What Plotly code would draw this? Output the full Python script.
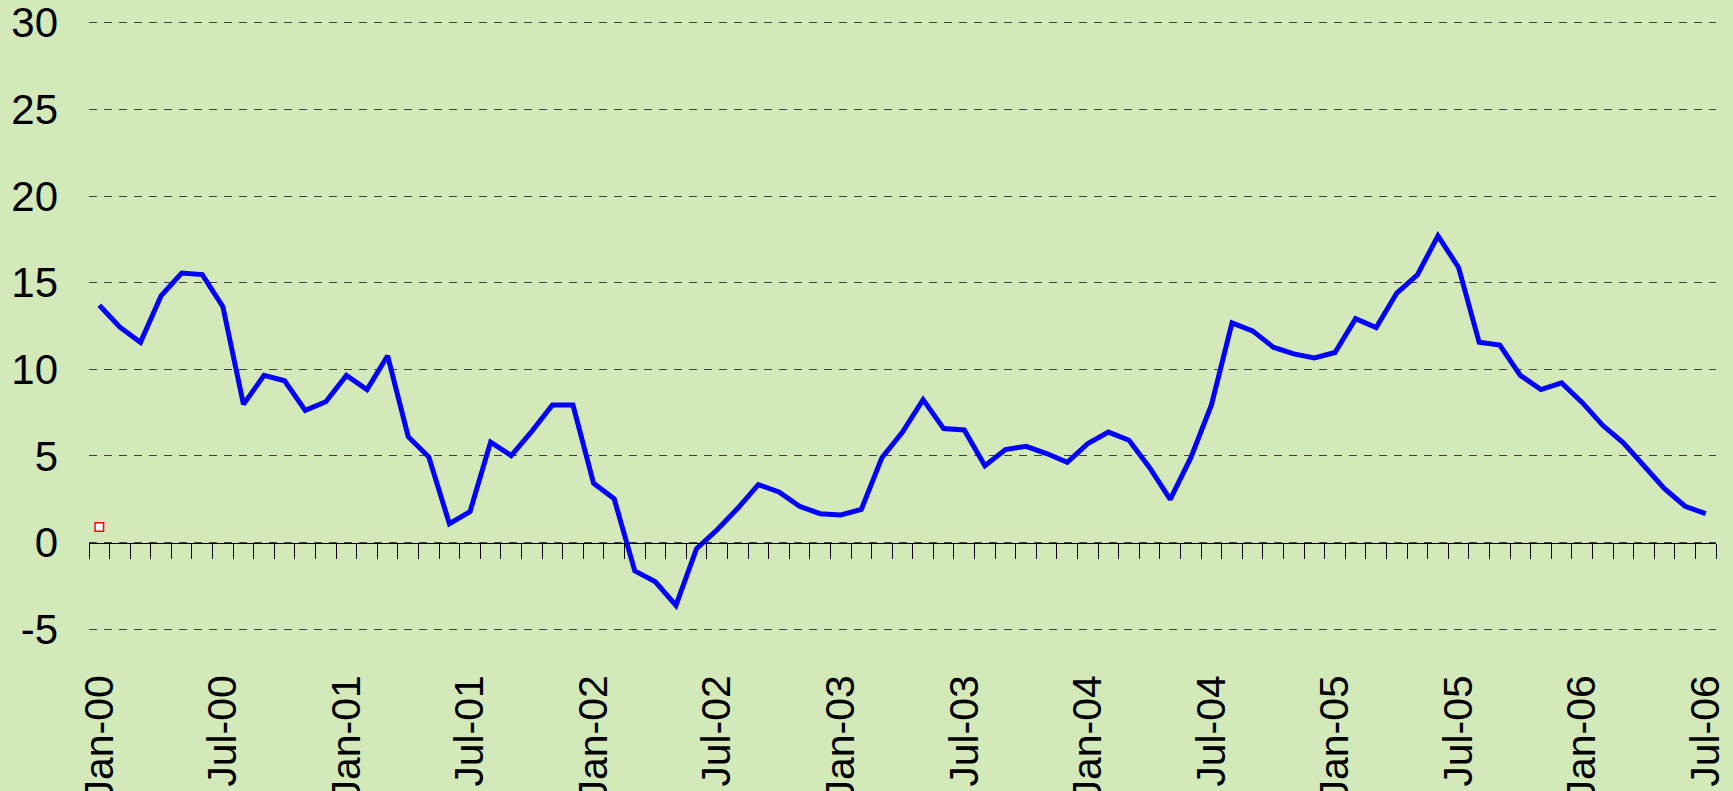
import pandas as pd
import plotly.graph_objects as go

# ---- data ----
categories = list(pd.date_range("2000-01-01", "2006-07-01", freq="MS").strftime("%b-%y"))
values = [
    13.70, 12.43, 11.56, 14.24, 15.56, 15.47, 13.62, 7.98, 9.65, 9.34, 7.63, 8.13,
    9.65, 8.83, 10.78, 6.11, 4.94, 1.09, 1.79, 5.80, 5.02, 6.42, 7.94, 7.94,
    3.42, 2.53, -1.63, -2.26, -3.62, -0.35, 0.74, 1.98, 3.35, 2.92, 2.10, 1.67,
    1.60, 1.91, 4.90, 6.38, 8.25, 6.58, 6.50, 4.44, 5.37, 5.56, 5.14, 4.63,
    5.72, 6.38, 5.91, 4.32, 2.49, 4.90, 7.94, 12.68, 12.22, 11.28, 10.89, 10.66,
    10.97, 12.92, 12.41, 14.40, 15.45, 17.70, 15.88, 11.56, 11.40, 9.65, 8.83, 9.22,
    8.09, 6.77, 5.76, 4.47, 3.11, 2.10, 1.67,
]
marker_category = ["Jan-00"]
marker_value = [0.9]

x_tick_labels = ["Jan-00", "Jul-00", "Jan-01", "Jul-01", "Jan-02", "Jul-02", "Jan-03",
                 "Jul-03", "Jan-04", "Jul-04", "Jan-05", "Jul-05", "Jan-06", "Jul-06"]
y_tick_values = [-5, 0, 5, 10, 15, 20, 25, 30]
y_tick_labels = ["-5", "0", "5", "10", "15", "20", "25", "30"]

# ---- style ----
BG = "#D3E9B9"
FONT = "Liberation Sans, Arial, sans-serif"
y_min, y_max = -5, 30
eps = 0.1  # keep edge gridlines (-5, 30) a little inside the drawn range

fig = go.Figure()
fig.add_trace(go.Scatter(
    x=categories, y=values, mode="lines",
    line=dict(color="#0000FF", width=5),
    showlegend=False, hoverinfo="skip",
))
fig.add_trace(go.Scatter(
    x=marker_category, y=marker_value, mode="markers",
    marker=dict(symbol="square", size=8.5, color="white",
                line=dict(color="#FF0000", width=1.5)),
    showlegend=False, hoverinfo="skip",
))
# invisible trace carrying the tick-mark axis at y = 0
fig.add_trace(go.Scatter(
    x=categories, y=values, xaxis="x2", mode="lines",
    line=dict(width=0), opacity=0, showlegend=False, hoverinfo="skip",
))

n = len(categories)
lo, hi = y_min - eps, y_max + eps
fig.update_layout(
    width=1733, height=791,
    margin=dict(l=89, r=17, t=21, b=160, pad=0),
    paper_bgcolor=BG, plot_bgcolor=BG,
    font=dict(family=FONT, size=42, color="black"),
    xaxis=dict(
        type="category", categoryorder="array", categoryarray=categories,
        range=[-0.5, n - 0.5], automargin=False,
        tickmode="array", tickvals=x_tick_labels, ticktext=x_tick_labels,
        tickangle=-90, ticks="", showgrid=False, zeroline=False, showline=False,
        ticklabelstandoff=35, ticklabeloverflow="allow",
        tickfont=dict(family=FONT, size=41, color="black"),
    ),
    xaxis2=dict(
        type="category", categoryorder="array", categoryarray=categories,
        range=[-0.5, n - 0.5], overlaying="x", anchor="free", automargin=False,
        position=(0 - lo) / (hi - lo), side="bottom",
        tickson="boundaries", ticks="outside", ticklen=15, tickwidth=1.2,
        tickcolor="black", dtick=1,
        showline=True, linecolor="black", linewidth=1.3,
        showticklabels=False, showgrid=False, zeroline=False,
    ),
    yaxis=dict(
        range=[lo, hi], automargin=False,
        tickmode="array", tickvals=y_tick_values, ticktext=y_tick_labels,
        showgrid=True, gridcolor="#404040", gridwidth=1.1, griddash="8px,7px",
        zeroline=False, showline=False, ticks="",
        ticklabelstandoff=30, ticklabeloverflow="allow",
        tickfont=dict(family=FONT, size=42, color="black"),
    ),
)

fig.write_html("out.html", config={"displayModeBar": False},
               post_script="document.body.style.margin='0';")
